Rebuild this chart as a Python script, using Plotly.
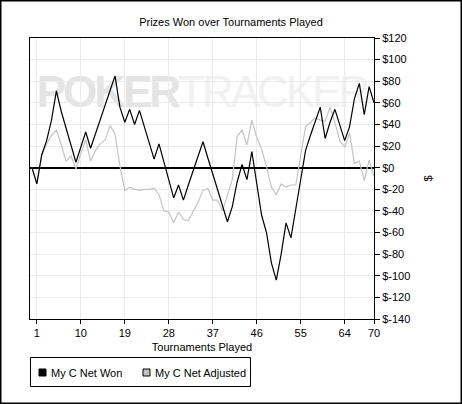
import plotly.graph_objects as go

tournaments = list(range(0, 71))
net_won = [0, -15, 12, 25, 44, 71, 52, 36, 20, 5,
           19, 33, 18, 31, 45, 58, 72, 85, 56, 42,
           54, 40, 53, 38, 23, 8, 22, 5, -11, -28,
           -16, -30, -16, -3, 10, 24, 9, -6, -21, -36,
           -50, -36, -13, 3, -11, 15, -15, -44, -60, -88,
           -104, -80, -51, -65, -38, -11, 16, 30, 44, 56,
           27, 42, 54, 39, 25, 38, 64, 78, 49, 75,
           60]
net_adjusted = [0, -15, 11, 22, 30, 35, 21, 6, 11, -1,
                13, 26, 6, 16, 22, 26, 39, 31, 2, -21,
                -18, -20, -21, -20, -20, -19, -25, -40, -41, -51,
                -41, -48, -49, -40, -32, -21, -19, -30, -30, -40,
                -26, -11, 29, 35, 21, 44, 28, 17, 1, -18,
                -25, -15, -18, -16, -16, 10, 38, 42, 46, 44,
                43, 56, 42, 25, 19, 32, 4, 6, -12, 7,
                -8]

series_names = ["My C Net Won", "My C Net Adjusted"]
series_colors = ["#000000", "#c4c4c4"]
swatch_colors = ["#000000", "#c0c0c0"]

x_ticks = [1, 10, 19, 28, 37, 46, 55, 64, 70]
y_ticks = [120, 100, 80, 60, 40, 20, 0, -20, -40, -60, -80, -100, -120, -140]
y_tick_labels = ["$120", "$100", "$80", "$60", "$40", "$20", "$0", "$-20", "$-40",
                 "$-60", "$-80", "$-100", "$-120", "$-140"]

FONT = "Liberation Sans, Arial, sans-serif"

fig = go.Figure()

fig.add_trace(go.Scatter(x=tournaments, y=net_adjusted, mode="lines", name=series_names[1],
                         line=dict(color=series_colors[1], width=1.2),
                         showlegend=False, hoverinfo="skip"))
fig.add_trace(go.Scatter(x=tournaments, y=net_won, mode="lines", name=series_names[0],
                         line=dict(color=series_colors[0], width=1.2),
                         showlegend=False, hoverinfo="skip"))

W, H = 462, 404
L, R, T, B = 30, 88, 38, 85
pw, ph = W - L - R, H - T - B

def px_x(p):
    return (p - L) / pw

def px_y(p):
    return (H - B - p) / ph

shapes = [
    # watermark (behind the data)
    dict(type="rect", xref="paper", yref="paper",
         x0=px_x(52), x1=px_x(352), y0=px_y(110), y1=px_y(64),
         line=dict(width=0), fillcolor="rgba(0,0,0,0)", layer="below",
         label=dict(text="<span style='letter-spacing:-3px'><b>POKER</b></span>"
                         "<span style='color:#f1f1f1;letter-spacing:-3px'>TRACKER</span>",
                    textposition="middle center",
                    font=dict(family=FONT, size=44, color="#e4e4e4"))),
    # outer frame
    dict(type="rect", xref="paper", yref="paper",
         x0=px_x(0.75), x1=px_x(W - 0.75), y0=px_y(H - 0.75), y1=px_y(0.75),
         line=dict(color="#000000", width=1.5), layer="above"),
    # legend box
    dict(type="rect", xref="paper", yref="paper",
         x0=px_x(30.5), x1=px_x(250.5), y0=px_y(386.5), y1=px_y(357.5),
         line=dict(color="#000000", width=1), fillcolor="white", layer="above"),
]
annotations = []
legend_sq_x = [39, 143]
legend_tx_x = [49, 153]
for name, col, sx, tx in zip(series_names, swatch_colors, legend_sq_x, legend_tx_x):
    shapes.append(dict(type="rect", xref="paper", yref="paper",
                       x0=px_x(sx), x1=px_x(sx + 7), y0=px_y(376), y1=px_y(369),
                       line=dict(color="#000000", width=1), fillcolor=col, layer="above"))
    annotations.append(dict(text=name, x=px_x(tx), y=px_y(372.5), xref="paper", yref="paper",
                            xanchor="left", yanchor="middle", showarrow=False,
                            font=dict(family=FONT, size=11, color="#000000")))

fig.update_layout(
    width=W, height=H,
    margin=dict(l=L, r=R, t=T, b=B, autoexpand=False),
    paper_bgcolor="white",
    plot_bgcolor="white",
    showlegend=False,
    font=dict(family=FONT, size=11, color="#000000"),
    title=dict(text="Prizes Won over Tournaments Played", x=0.5, xref="container",
               xanchor="center", y=1 - 22 / H, yref="container", yanchor="middle",
               font=dict(family=FONT, size=11, color="#000000")),
    xaxis=dict(range=[-0.4, 70], tickvals=x_ticks, ticks="outside", ticklen=4,
               tickcolor="#000000", showline=True, linecolor="#000000", linewidth=1,
               mirror=True, showgrid=True, gridcolor="#ebebeb", gridwidth=1,
               zeroline=False, tickfont=dict(size=11), automargin=False,
               title=dict(text="Tournaments Played", font=dict(size=11), standoff=5)),
    yaxis=dict(range=[-140, 120], side="right", tickvals=y_ticks, ticktext=y_tick_labels,
               ticks="outside", ticklen=5, tickcolor="#000000", showline=True,
               linecolor="#000000", linewidth=1, mirror=True, showgrid=True,
               gridcolor="#ebebeb", gridwidth=1, zeroline=True, zerolinecolor="#000000",
               zerolinewidth=1.5, tickfont=dict(size=11), automargin=False,
               title=dict(text="$", font=dict(size=11), standoff=14)),
    shapes=shapes,
    annotations=annotations,
)

fig.write_html("out.html", config={"displayModeBar": False},
               post_script="document.body.style.margin='0';document.body.style.padding='0';")
